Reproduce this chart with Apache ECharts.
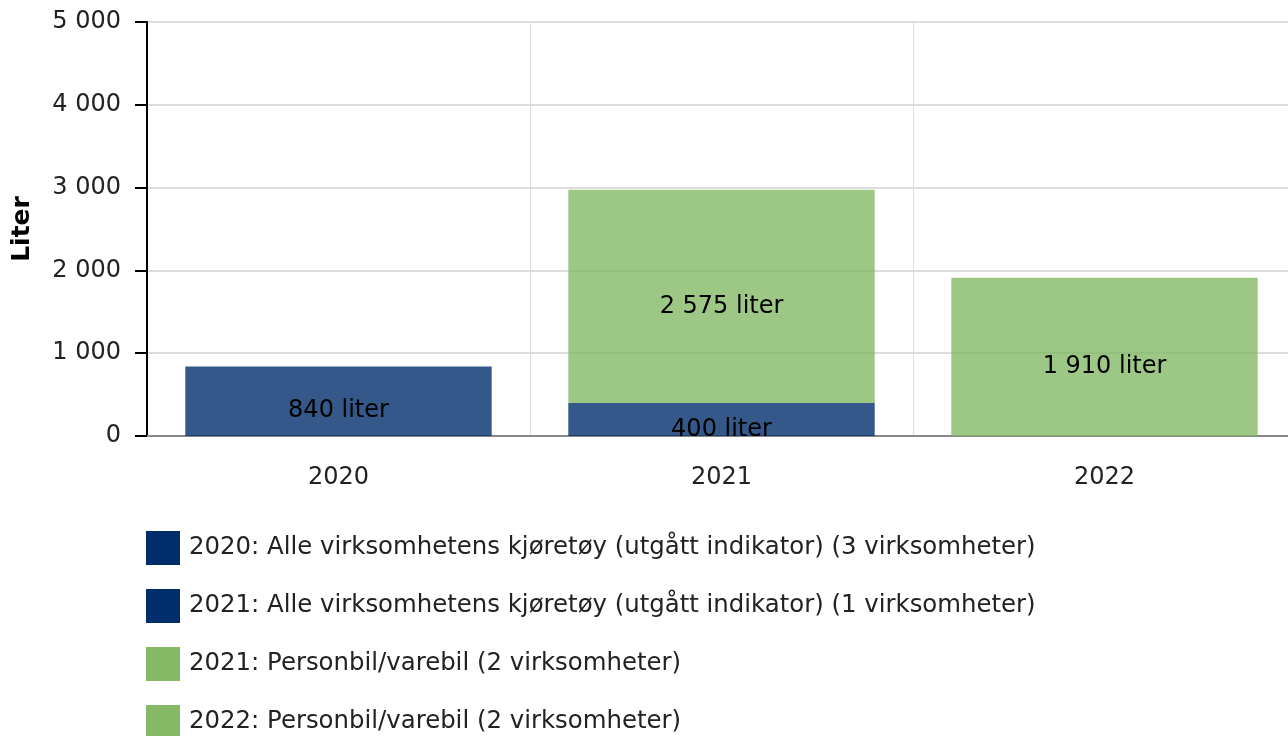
<!DOCTYPE html>
<html>
<head>
<meta charset="utf-8">
<script src="https://cdn.jsdelivr.net/npm/echarts@6/dist/echarts.min.js"></script>
<style>
  html, body { margin: 0; padding: 0; background: #fff; }
  #chart { width: 1288px; height: 736px; }
</style>
</head>
<body>
<div id="chart"></div>
<script>
var years = ['2020', '2021', '2022']
var seriesNames = [
    '2020: Alle virksomhetens kjøretøy (utgått indikator) (3 virksomheter)',
    '2021: Alle virksomhetens kjøretøy (utgått indikator) (1 virksomheter)',
    '2021: Personbil/varebil (2 virksomheter)',
    '2022: Personbil/varebil (2 virksomheter)'
]
var values2020All = [840, '-', '-']
var values2021All = ['-', 400, '-']
var values2021Car = ['-', 2575, '-']
var values2022Car = ['-', '-', 1910]
var colors = ['#002e6c', '#002e6c', '#85b966', '#85b966']
var barColors = ['rgba(0,46,108,0.8)', 'rgba(0,46,108,0.8)', 'rgba(133,185,102,0.8)', 'rgba(133,185,102,0.8)']

function fmt(v) {
    return String(Math.round(v)).replace(/\B(?=(\d{3})+(?!\d))/g, ' ')
}

var font = 'DejaVu Sans'
var allData = [values2020All, values2021All, values2021Car, values2022Car]

var series = []
var legendData = []
for (var i in allData) {
    series.push({
        name: seriesNames[i],
        type: 'bar',
        stack: 'total',
        barWidth: '80%',
        data: allData[i],
        itemStyle: { color: barColors[i] },
        z: 2,
        label: {
            show: true,
            position: 'inside',
            offset: [0, 10],
            color: '#000',
            fontFamily: font,
            fontSize: 24,
            formatter: function (p) { return fmt(p.value) + ' liter' }
        }
    })
    legendData.push({ name: seriesNames[i], itemStyle: { color: colors[i] } })
}

var chart = echarts.init(document.getElementById('chart'))
var option = {
    animation: false,
    color: colors,
    grid: { left: 147, top: 22, width: 1149, bottom: 300, outerBoundsMode: 'none' },
    legend: {
        orient: 'vertical',
        left: 146,
        top: 531,
        padding: 0,
        height: 220,
        itemWidth: 34,
        itemHeight: 34,
        itemGap: 24,
        icon: 'rect',
        textStyle: { fontFamily: font, fontSize: 24.4, color: '#222', padding: [0, 0, 0, 4] },
        data: legendData
    },
    xAxis: {
        type: 'category',
        data: years,
        axisLine: { lineStyle: { color: '#888', width: 2 } },
        axisTick: { alignWithLabel: true, length: 8, lineStyle: { color: '#aaa' } },
        axisLabel: { fontFamily: font, fontSize: 24, color: '#222', margin: 30 },
        splitLine: { show: true, lineStyle: { color: '#dddddd' } }
    },
    yAxis: {
        type: 'value',
        min: 0,
        max: 5000,
        interval: 1000,
        name: 'Liter',
        nameLocation: 'middle',
        nameGap: 112,
        nameTextStyle: { fontFamily: font, fontSize: 25, fontWeight: 'bold', color: '#000' },
        axisLine: { show: true, lineStyle: { color: '#000', width: 2 } },
        axisTick: { show: true, length: 12, lineStyle: { color: '#000', width: 2 } },
        axisLabel: { fontFamily: font, fontSize: 24, color: '#222', margin: 26, formatter: fmt },
        splitLine: { show: true, lineStyle: { color: '#dddddd', width: 2 } }
    },
    series: series
}
chart.setOption(option)
</script>
</body>
</html>
